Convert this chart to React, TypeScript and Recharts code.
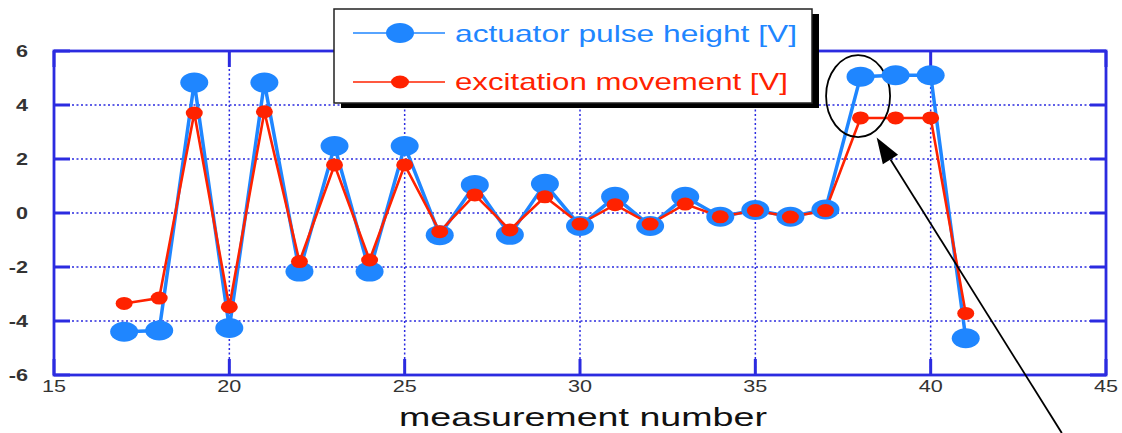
import {
  CartesianGrid,
  Legend,
  Line,
  LineChart,
  ReferenceArea,
  ReferenceDot,
  ReferenceLine,
  XAxis,
  YAxis,
} from "recharts";

const measurement = [17, 18, 19, 20, 21, 22, 23, 24, 25, 26, 27, 28, 29, 30, 31, 32, 33, 34, 35, 36, 37, 38, 39, 40, 41];
const actuatorPulse = [-4.4, -4.35, 4.83, -4.26, 4.83, -2.17, 2.48, -2.17, 2.48, -0.82, 1.04, -0.81, 1.08, -0.48, 0.6, -0.48, 0.6, -0.14, 0.11, -0.14, 0.13, 5.05, 5.1, 5.1, -4.64];
const excitationMove = [-3.35, -3.15, 3.7, -3.48, 3.75, -1.8, 1.78, -1.74, 1.78, -0.69, 0.67, -0.63, 0.6, -0.41, 0.31, -0.41, 0.33, -0.14, 0.09, -0.15, 0.09, 3.52, 3.52, 3.52, -3.72];
const xTicks = [15, 20, 25, 30, 35, 40, 45];
const yTicks = [-6, -4, -2, 0, 2, 4, 6];

const seriesNames = ["actuator pulse height [V]", "excitation movement [V]"];
const xLabel = "measurement number";

// annotation: ellipse around point 38, arrow pointing at it from below right
const circledPoint = { x: 37.93, y: 4.33 };
const arrowFrom = { x: 43.74, y: -8.15 };
const arrowTo = { x: 38.46, y: 2.8 };

const data = measurement.map((m, i) => ({
  m,
  actuator: actuatorPulse[i],
  excitation: excitationMove[i],
}));

const X_DOMAIN: [number, number] = [15, 45];
const Y_DOMAIN: [number, number] = [-6, 6];
const TICK_LEN = 16;

const BLUE = "#1f86ff";
const RED = "#ff2200";
const AXIS = "#2b2be0";
const FONT = "'Liberation Sans', Arial, sans-serif";
const STRETCH = 1.35;

const textWidth = (s: string, fs: number) =>
  s.split("").reduce((w, c) => w + (c === "-" ? 0.333 : 0.556), 0) * fs * STRETCH;

function XTick(props: any) {
  const { x, y, payload } = props;
  const s = String(payload.value);
  return (
    <text
      x={x}
      y={y}
      dy="0.71em"
      textAnchor="middle"
      fontSize={16}
      fontFamily={FONT}
      fill="#333"
      textLength={textWidth(s, 16)}
      lengthAdjust="spacingAndGlyphs"
    >
      {s}
    </text>
  );
}

function YTick(props: any) {
  const { x, y, payload } = props;
  const s = String(payload.value);
  return (
    <text
      x={x}
      y={y}
      dy="0.355em"
      textAnchor="end"
      fontSize={17}
      fontWeight="bold"
      fontFamily={FONT}
      fill="#333"
      textLength={textWidth(s, 16)}
      lengthAdjust="spacingAndGlyphs"
    >
      {s}
    </text>
  );
}

function XAxisLabel(props: any) {
  const vb = props.viewBox ?? { x: 54, y: 375, width: 1052, height: 58 };
  return (
    <text
      x={vb.x + vb.width / 2 + 3}
      y={vb.y + 51}
      textAnchor="middle"
      fontSize={26}
      fontFamily={FONT}
      fill="#111"
      textLength={368}
      lengthAdjust="spacingAndGlyphs"
    >
      {xLabel}
    </text>
  );
}

function LegendBox() {
  return (
    <svg width={500} height={112} style={{ display: "block" }}>
      <rect x={11} y={10} width={478} height={94} fill="#000" />
      <rect x={4} y={5} width={478} height={94} fill="#fff" stroke="#222" strokeWidth={1.5} />
      <line x1={23} x2={115} y1={29} y2={29} stroke={BLUE} strokeWidth={1.5} />
      <ellipse cx={70} cy={29} rx={14} ry={10} fill={BLUE} />
      <text
        x={125}
        y={38}
        fontSize={24}
        fontFamily={FONT}
        fill={BLUE}
        textLength={342}
        lengthAdjust="spacingAndGlyphs"
      >
        {seriesNames[0]}
      </text>
      <line x1={23} x2={115} y1={78} y2={78} stroke={RED} strokeWidth={1.5} />
      <ellipse cx={70} cy={78} rx={9} ry={6.5} fill={RED} />
      <text
        x={125}
        y={86}
        fontSize={24}
        fontFamily={FONT}
        fill={RED}
        textLength={333}
        lengthAdjust="spacingAndGlyphs"
      >
        {seriesNames[1]}
      </text>
    </svg>
  );
}

const blueDot = (p: any) => (
  <ellipse key={`b-${p.index}`} cx={p.cx} cy={p.cy} rx={14} ry={10} fill={BLUE} />
);
const redDot = (p: any) => (
  <ellipse key={`r-${p.index}`} cx={p.cx} cy={p.cy} rx={8.5} ry={6.5} fill={RED} />
);

function Arrow(props: any) {
  const { x1, y1, x2, y2 } = props;
  const ang = Math.atan2(y2 - y1, x2 - x1);
  const len = 26;
  const half = 9;
  const bx = x2 - len * Math.cos(ang);
  const by = y2 - len * Math.sin(ang);
  const px = -Math.sin(ang) * half;
  const py = Math.cos(ang) * half;
  return (
    <g>
      <line x1={x1} y1={y1} x2={bx} y2={by} stroke="#000" strokeWidth={1.8} />
      <polygon points={`${x2},${y2} ${bx + px},${by + py} ${bx - px},${by - py}`} fill="#000" />
    </g>
  );
}

// plot frame with inward tick marks on all four sides
function Frame(props: any) {
  const { x, y, width, height } = props;
  const px = (v: number) => x + ((v - X_DOMAIN[0]) / (X_DOMAIN[1] - X_DOMAIN[0])) * width;
  const py = (v: number) => y + height - ((v - Y_DOMAIN[0]) / (Y_DOMAIN[1] - Y_DOMAIN[0])) * height;
  return (
    <g stroke={AXIS} fill="none">
      {yTicks.map((v) => (
        <g key={`y${v}`} strokeWidth={3}>
          <line x1={x} x2={x + TICK_LEN} y1={py(v)} y2={py(v)} />
          <line x1={x + width} x2={x + width - TICK_LEN} y1={py(v)} y2={py(v)} />
        </g>
      ))}
      {xTicks.map((v) => (
        <g key={`x${v}`} strokeWidth={3}>
          <line x1={px(v)} x2={px(v)} y1={y + height} y2={y + height - TICK_LEN} />
          <line x1={px(v)} x2={px(v)} y1={y} y2={y + TICK_LEN} />
        </g>
      ))}
      <rect x={x} y={y} width={width} height={height} strokeWidth={2.8} />
    </g>
  );
}

export default function App() {
  return (
    <div style={{ position: "absolute", left: 0, top: 0, width: 1122, height: 433, background: "#fff" }}>
      <LineChart width={1122} height={433} data={data} margin={{ top: 51, right: 16, bottom: 0, left: 0 }}>
        <CartesianGrid stroke={AXIS} strokeDasharray="2 2.5" strokeWidth={1.5} />
        <XAxis
          dataKey="m"
          type="number"
          domain={X_DOMAIN}
          ticks={xTicks}
          height={58}
          axisLine={false}
          tickLine={false}
          tickSize={0}
          tickMargin={6}
          tick={<XTick />}
          label={<XAxisLabel />}
        />
        <YAxis
          type="number"
          domain={Y_DOMAIN}
          ticks={yTicks}
          width={54}
          axisLine={false}
          tickLine={false}
          tickSize={0}
          tickMargin={26}
          tick={<YTick />}
        />
        <ReferenceArea
          x1={X_DOMAIN[0]}
          x2={X_DOMAIN[1]}
          y1={Y_DOMAIN[0]}
          y2={Y_DOMAIN[1]}
          ifOverflow="visible"
          shape={<Frame />}
        />
        <Line
          type="linear"
          dataKey="actuator"
          name={seriesNames[0]}
          stroke={BLUE}
          strokeWidth={3.5}
          dot={blueDot}
          activeDot={false}
          isAnimationActive={false}
        />
        <Line
          type="linear"
          dataKey="excitation"
          name={seriesNames[1]}
          stroke={RED}
          strokeWidth={2.6}
          dot={redDot}
          activeDot={false}
          isAnimationActive={false}
        />
        <ReferenceDot
          x={circledPoint.x}
          y={circledPoint.y}
          ifOverflow="visible"
          shape={(p: any) => (
            <ellipse cx={p.cx} cy={p.cy} rx={32} ry={41} fill="none" stroke="#000" strokeWidth={1.8} />
          )}
        />
        <ReferenceLine
          segment={[arrowFrom, arrowTo]}
          ifOverflow="visible"
          shape={<Arrow />}
        />
        <Legend
          layout="vertical"
          align="center"
          verticalAlign="middle"
          wrapperStyle={{ left: 330, top: 4, width: 500, height: 112 }}
          content={() => <LegendBox />}
        />
      </LineChart>
    </div>
  );
}
